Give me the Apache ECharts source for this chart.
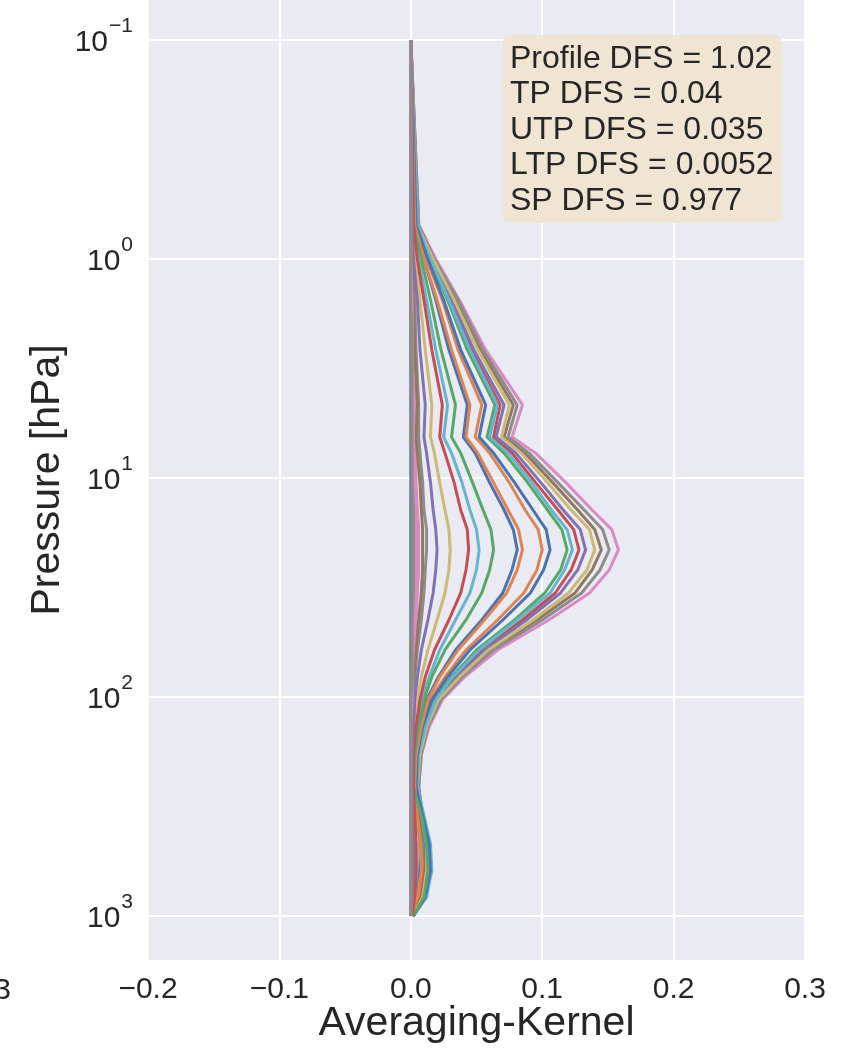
<!DOCTYPE html>
<html>
<head>
<meta charset="utf-8">
<title>Averaging kernels</title>
<script src="https://cdn.jsdelivr.net/npm/echarts@6/dist/echarts.min.js"></script>
<style>
  html, body { margin: 0; padding: 0; background: #ffffff; }
  #chart { width: 857px; height: 1050px; }
</style>
</head>
<body>
<div id="chart"></div>
<script>
// Pressure grid of the retrieval (hPa), top of atmosphere to surface
const pressureLevels = [0.1, 0.7, 1.0, 1.54, 2.6, 4.64, 6.5, 7.7, 10.5, 14, 17.2, 21.3, 26.3, 33.5, 44.5, 61, 81, 103, 137, 183, 258, 346, 470, 620, 820, 1000];

// Averaging-kernel rows, one value per pressure level
const akRow01 = [0,0,0,0,0,0,0,0,0,0,0,0,0,0,0,0,0,0,0,0,0,0,0,0,0,0];
const akRow02 = [0,0,0,0,0,.001,0,.001,.001,.001,.001,.001,.001,.001,.001,0,0,0,0,0,0,0,0,0,0,0];
const akRow03 = [0,0,0,0,0,.001,0,.001,.001,.001,.001,.001,.001,.001,.001,0,0,0,0,0,0,0,0,0,0,0];
const akRow04 = [0,0,0,0,.001,.001,.001,.001,.001,.002,.002,.002,.002,.002,.001,.001,.001,0,0,0,0,0,0,0,0,0];
const akRow05 = [0,0,0,.001,.001,.002,.001,.002,.002,.003,.003,.003,.003,.003,.002,.001,.001,0,0,0,0,0,0,0,0,0];
const akRow06 = [0,0,0,.001,.001,.002,.002,.002,.003,.003,.004,.004,.004,.003,.003,.002,.001,.001,0,0,0,0,0,0,0,0];
const akRow07 = [0,0,.001,.001,.002,.003,.003,.004,.004,.005,.006,.006,.006,.005,.004,.003,.002,.001,.001,0,0,0,0,.001,0,0];
const akRow08 = [0,0,.001,.003,.004,.006,.006,.007,.009,.010,.012,.012,.011,.010,.008,.005,.003,.002,.001,.001,0,.001,.001,.001,.001,0];
const akRow09 = [0,.001,.004,.007,.011,.016,.015,.018,.022,.026,.029,.030,.029,.026,.020,.013,.008,.005,.003,.002,.001,.002,.002,.003,.002,0];
const akRow10 = [0,.002,.006,.012,.019,.028,.025,.031,.039,.045,.050,.052,.050,.045,.034,.022,.014,.008,.005,.003,.002,.003,.004,.005,.003,.001];
const akRow11 = [0,.003,.010,.019,.029,.043,.040,.049,.060,.071,.078,.081,.077,.070,.054,.034,.021,.012,.007,.004,.003,.005,.007,.007,.005,.001];
const akRow12 = [0,.004,.012,.024,.036,.054,.049,.060,.075,.087,.097,.100,.096,.086,.066,.042,.026,.015,.009,.005,.004,.006,.008,.009,.006,.001];
const akRow13 = [0,.005,.014,.028,.043,.064,.058,.071,.089,.104,.115,.119,.114,.102,.079,.050,.031,.018,.011,.006,.005,.007,.010,.011,.008,.002];
const akRow14 = [0,.005,.015,.030,.046,.068,.063,.077,.095,.112,.124,.128,.122,.110,.085,.054,.033,.020,.011,.007,.005,.007,.011,.011,.008,.002];
const akRow15 = [0,.005,.016,.031,.048,.071,.065,.080,.099,.116,.129,.133,.127,.114,.088,.056,.035,.020,.012,.007,.005,.008,.011,.012,.009,.002];
const akRow16 = [0,.006,.018,.034,.053,.078,.071,.087,.108,.127,.140,.145,.138,.125,.096,.061,.038,.022,.013,.007,.006,.008,.012,.013,.009,.002];
const akRow17 = [0,.006,.019,.037,.057,.085,.077,.095,.118,.138,.153,.158,.151,.136,.105,.066,.041,.024,.014,.008,.006,.009,.013,.014,.010,.002];
const akRow18 = [0,.006,.018,.036,.055,.081,.074,.090,.112,.132,.146,.151,.144,.130,.100,.063,.039,.023,.013,.008,.006,.009,.013,.013,.010,.002];
const akRow19 = [0,.005,.017,.033,.051,.075,.069,.084,.104,.122,.136,.140,.134,.120,.093,.059,.037,.021,.012,.007,.005,.008,.012,.012,.009,.002];
const akRow20 = [0,.005,.015,.029,.045,.066,.060,.074,.092,.107,.119,.123,.117,.106,.081,.052,.032,.019,.011,.006,.005,.010,.015,.016,.012,.002];
const akRow21 = [0,.004,.013,.025,.038,.057,.052,.063,.079,.093,.103,.106,.101,.091,.070,.045,.028,.016,.009,.005,.004,.009,.014,.015,.011,.002];
const akRow22 = [0,.003,.010,.020,.031,.045,.042,.051,.063,.074,.082,.085,.081,.073,.056,.036,.022,.013,.008,.004,.003,.005,.007,.008,.005,.001];
const akRow23 = [0,.002,.008,.015,.023,.034,.031,.038,.047,.055,.061,.063,.060,.054,.042,.026,.016,.010,.006,.003,.002,.008,.012,.013,.010,.002];
const akRow24 = [0,.002,.005,.010,.016,.024,.022,.026,.033,.038,.043,.044,.042,.038,.029,.018,.011,.007,.004,.002,.002,.003,.004,.004,.003,.001];
const akRow25 = [0,.001,.002,.005,.007,.011,.010,.012,.015,.017,.019,.020,.019,.017,.013,.008,.005,.003,.002,.001,.001,.001,.002,.002,.001,0];
const akRow26 = [0,0,.001,.002,.003,.005,.004,.005,.007,.008,.009,.009,.009,.008,.006,.004,.002,.001,.001,0,0,.001,.001,.001,.001,0];
const akRow27 = [0,0,0,.001,.001,.002,.002,.002,.003,.003,.004,.004,.004,.003,.003,.002,.001,.001,0,0,0,0,0,0,0,0];
const akRow28 = [0,0,0,0,.001,.001,.001,.001,.001,.002,.002,.002,.002,.002,.001,.001,.001,0,0,0,0,0,0,0,0,0];

const kernelRows = [akRow01, akRow02, akRow03, akRow04, akRow05, akRow06, akRow07, akRow08, akRow09, akRow10,
  akRow11, akRow12, akRow13, akRow14, akRow15, akRow16, akRow17, akRow18, akRow19, akRow20,
  akRow21, akRow22, akRow23, akRow24, akRow25, akRow26, akRow27, akRow28];

// Axis ticks
const xTicks = [-0.2, -0.1, 0.0, 0.1, 0.2, 0.3];
const yTicks = [0.1, 1, 10, 100, 1000];

// Retrieval summary
const dfsLines = [
  'Profile DFS = 1.02',
  'TP DFS = 0.04',
  'UTP DFS = 0.035',
  'LTP DFS = 0.0052',
  'SP DFS = 0.977'
];

// seaborn "deep" colour cycle
const palette = ['#4C72B0', '#DD8452', '#55A868', '#C44E52', '#8172B3', '#937860', '#DA8BC3', '#8C8C8C', '#CCB974', '#64B5CD'];

const FONT = '"Liberation Sans", Arial, sans-serif';
const TEXT = '#262626';
const MINUS = '\u2212';

const chart = echarts.init(document.getElementById('chart'), null, { renderer: 'canvas' });

const series = kernelRows.map((row, i) => ({
  type: 'line',
  name: 'level ' + (i + 1),
  data: row.map((v, j) => [v, pressureLevels[j]]),
  showSymbol: false,
  symbol: 'none',
  smooth: false,
  silent: true,
  lineStyle: { width: 3, color: palette[i % palette.length] },
  itemStyle: { color: palette[i % palette.length] },
  z: 3
}));

const option = {
  animation: false,
  backgroundColor: '#ffffff',
  grid: {
    left: 148, right: 52, top: 0, bottom: 90,
    outerBoundsMode: 'none',
    containLabel: false,
    show: true, backgroundColor: '#EAEAF2', borderWidth: 0
  },
  xAxis: {
    type: 'value',
    min: -0.2, max: 0.3, interval: 0.1,
    name: 'Averaging-Kernel',
    nameLocation: 'middle',
    nameGap: 43,
    nameMoveOverlap: false,
    nameTextStyle: { fontFamily: FONT, fontSize: 41, color: TEXT },
    axisLine: { show: false },
    axisTick: { show: false },
    axisLabel: {
      margin: 15,
      fontFamily: FONT, fontSize: 30, color: TEXT,
      formatter: v => v.toFixed(1).replace('-', MINUS)
    },
    splitLine: { show: true, lineStyle: { color: '#ffffff', width: 2 } }
  },
  yAxis: {
    type: 'log',
    logBase: 10,
    inverse: true,
    min: 0.0657, max: 1588,
    name: 'Pressure [hPa]',
    nameLocation: 'middle',
    nameGap: 80,
    nameMoveOverlap: false,
    nameTextStyle: { fontFamily: FONT, fontSize: 41, color: TEXT },
    axisLine: { show: false },
    axisTick: { show: false, customValues: yTicks },
    axisLabel: {
      customValues: yTicks,
      margin: 15,
      formatter: v => {
        const e = Math.round(Math.log10(v));
        return '{b|10}{s|' + (e < 0 ? MINUS + (-e) : e) + '}';
      },
      rich: {
        b: { fontFamily: FONT, fontSize: 30, color: TEXT, verticalAlign: 'bottom', lineHeight: 36 },
        s: { fontFamily: FONT, fontSize: 21, color: TEXT, verticalAlign: 'bottom', lineHeight: 36, padding: [0, 0, 21, 1] }
      }
    },
    splitLine: { show: true, lineStyle: { color: '#ffffff', width: 2 } }
  },
  graphic: [
    {
      type: 'rect', z: 10,
      shape: { x: 503, y: 35, width: 279, height: 188, r: 8 },
      style: { fill: '#F0E5D3' }
    },
    {
      type: 'text', z: 11,
      x: 510, y: 41,
      style: {
        text: dfsLines.join('\n'),
        font: '32px ' + FONT,
        lineHeight: 35.5,
        fill: TEXT,
        textVerticalAlign: 'top'
      }
    },
    {
      // tick label of the neighbouring panel, cut by the left page edge
      type: 'text', z: 11,
      x: 11, y: 991,
      style: {
        text: '0.3',
        font: '30px ' + FONT,
        fill: TEXT,
        align: 'right',
        verticalAlign: 'middle'
      }
    }
  ],
  series: series
};

chart.setOption(option);
</script>
</body>
</html>
